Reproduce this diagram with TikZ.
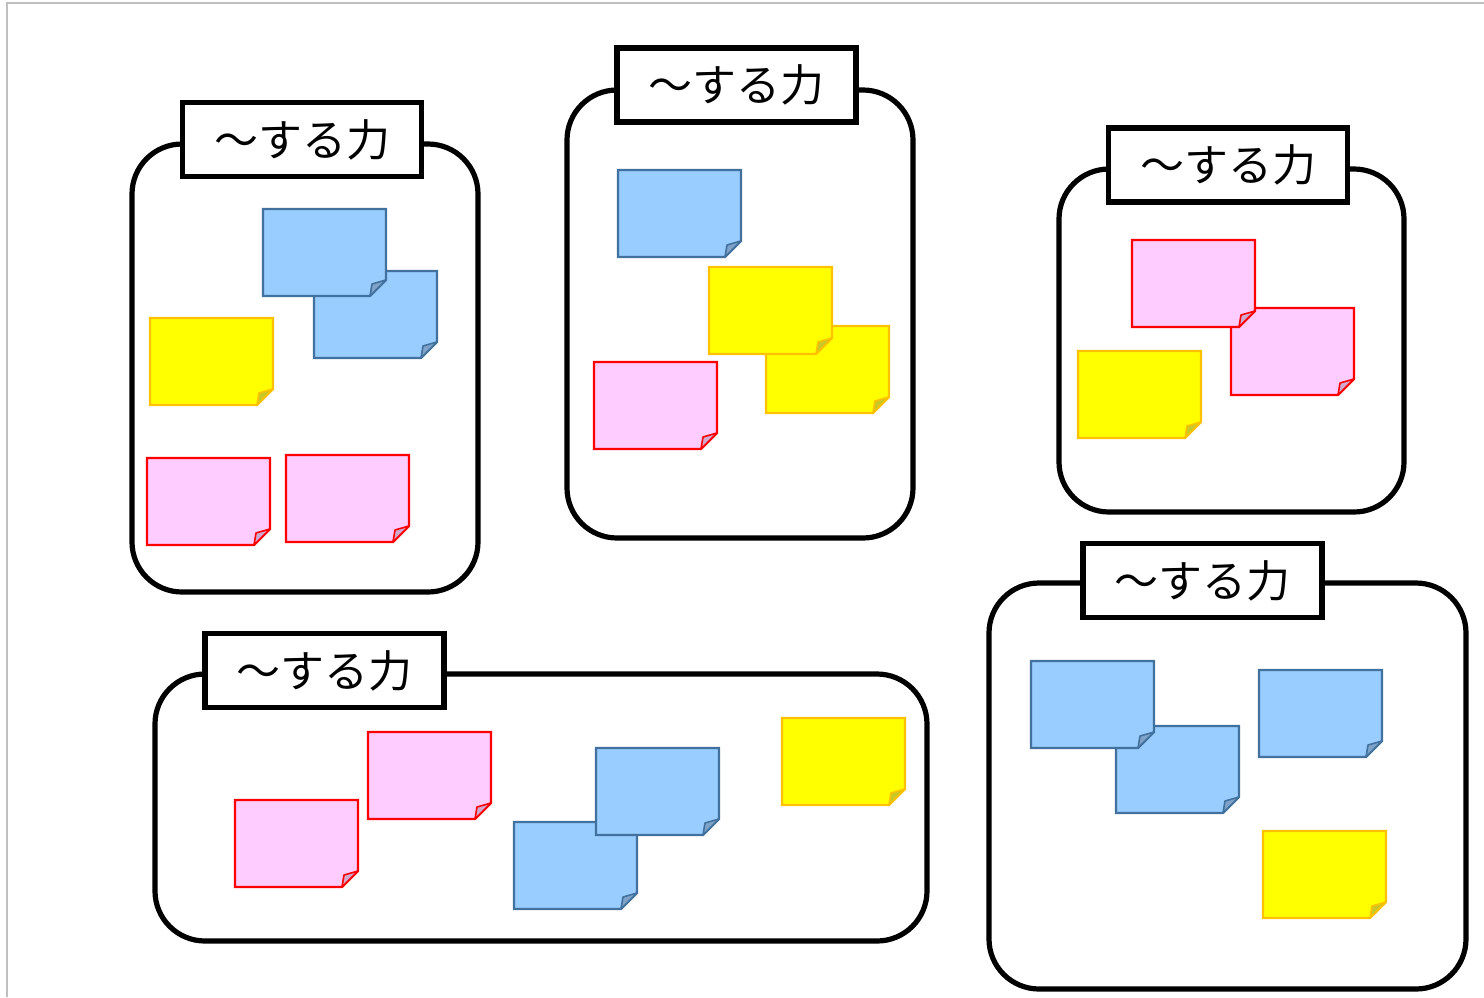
\documentclass[tikz,border=0pt]{standalone}
\usepackage{fontspec}
\newfontfamily\jpfont{Noto Sans CJK JP}

\definecolor{noteblue}{HTML}{99CCFF}
\definecolor{noteblueline}{HTML}{41719C}
\definecolor{notebluefold}{HTML}{7FA3C8}
\definecolor{noteyellow}{HTML}{FFFF00}
\definecolor{noteyellowline}{HTML}{FFC000}
\definecolor{noteyellowfold}{HTML}{C8C828}
\definecolor{notepink}{HTML}{FFCCFF}
\definecolor{notepinkline}{HTML}{FF0000}
\definecolor{notepinkfold}{HTML}{D0A8D0}

% sticky note: #1 colour (blue/yellow/pink), #2 #3 top left corner
\newcommand{\stickynote}[3]{%
  \draw[#1note, shift={(#2,#3)}] (0,0) -- (123,0) -- (123,71) -- (107,87) -- (0,87) -- cycle;
  \draw[#1fold, shift={(#2,#3)}] (107,87) -- (109,75) -- (123,71) -- cycle;
}

\begin{document}
\begin{tikzpicture}[x=0.5pt, y=-0.5pt,
  bluenote/.style={fill=noteblue, draw=noteblueline, line width=1.1pt},
  bluefold/.style={fill=notebluefold, draw=noteblueline, line width=0.8pt, line join=round},
  yellownote/.style={fill=noteyellow, draw=noteyellowline, line width=1.1pt},
  yellowfold/.style={fill=noteyellowfold, draw=noteyellowline, line width=0.8pt, line join=round},
  pinknote/.style={fill=notepink, draw=notepinkline, line width=1.1pt},
  pinkfold/.style={fill=notepinkfold, draw=notepinkline, line width=0.8pt, line join=round},
  groupbox/.style={draw, line width=2.6pt, rounded corners=25pt, fill=white},
  labelbox/.style={draw, line width=2.8pt, fill=white, minimum width=119.5pt,
    minimum height=37pt, inner sep=0pt, font=\jpfont\fontsize{22}{22}\selectfont}]
\useasboundingbox (0,0) rectangle (1484,997);
\draw[black!25, line width=1pt] (7,997) -- (7,3) -- (1484,3);

% group 1
\draw[groupbox] (132,144) rectangle (478,592);
\node[labelbox] (label1) at (302,139.5) {～する力};
\stickynote{blue}{314}{271}
\stickynote{blue}{263}{209}
\stickynote{yellow}{150}{318}
\stickynote{pink}{147}{458}
\stickynote{pink}{286}{455}

% group 2
\draw[groupbox] (567,90) rectangle (913,538);
\node[labelbox] (label2) at (736.5,85) {～する力};
\stickynote{blue}{618}{170}
\stickynote{yellow}{766}{326}
\stickynote{yellow}{709}{267}
\stickynote{pink}{594}{362}

% group 3
\draw[groupbox] (1059,169) rectangle (1404,512);
\node[labelbox] (label3) at (1228,165) {～する力};
\stickynote{pink}{1231}{308}
\stickynote{pink}{1132}{240}
\stickynote{yellow}{1078}{351}

% group 4
\draw[groupbox] (155,674) rectangle (927,941);
\node[labelbox] (label4) at (324.5,670.5) {～する力};
\stickynote{pink}{368}{732}
\stickynote{pink}{235}{800}
\stickynote{blue}{514}{822}
\stickynote{blue}{596}{748}
\stickynote{yellow}{782}{718}

% group 5
\draw[groupbox] (989,583) rectangle (1466,989);
\node[labelbox] (label5) at (1202.5,580.5) {～する力};
\stickynote{blue}{1116}{726}
\stickynote{blue}{1031}{661}
\stickynote{blue}{1259}{670}
\stickynote{yellow}{1263}{831}
\end{tikzpicture}
\end{document}
